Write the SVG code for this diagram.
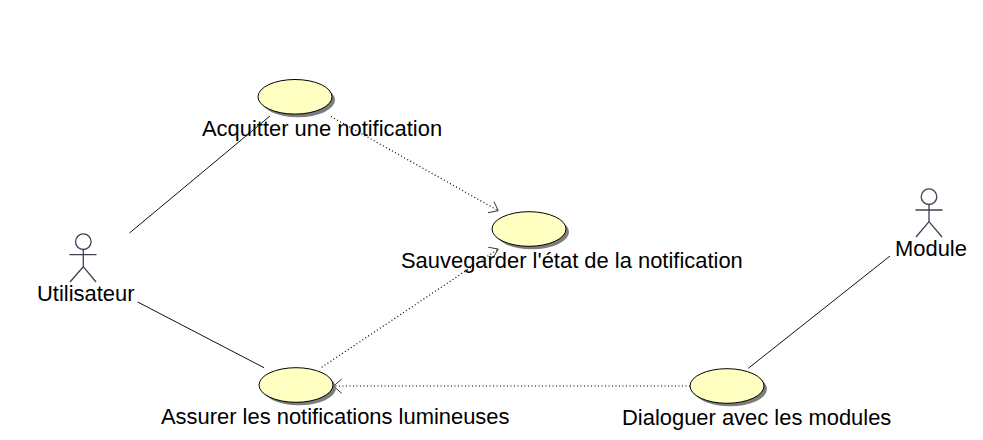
<svg xmlns="http://www.w3.org/2000/svg" width="983" height="440" viewBox="0 0 983 440">
<style>
text{font-family:"Liberation Sans",Arial,sans-serif;font-size:21.930px;fill:#000}
.uc{fill:#ffffc2;stroke:#000;stroke-width:1}
.sh{fill:#7d7d7d;stroke:none}
.actor{fill:none;stroke:#3f3f55;stroke-width:1.3}
.solid{fill:none;stroke:#111;stroke-width:1}
.dot{fill:none;stroke:#000;stroke-width:1.200;stroke-dasharray:1 2.500}
.head{fill:none;stroke:#333;stroke-width:1}
</style>
<rect width="983" height="440" fill="#fff"/>
<g id="connectors">
<path class="solid" d="M129.500 233L270 116"/>
<path class="solid" d="M137.700 302L264 367.700"/>
<path class="solid" d="M890 256L748.300 368.300"/>
<path class="dot" d="M331 116.500L498 210.500"/>
<path class="head" d="M488 212.700L498.300 210.700L494 201.700"/>
<path class="dot" d="M321.700 367.300L498 249.300"/>
<path class="head" d="M488.300 247.300L498.300 249L493 258"/>
<path class="dot" d="M690 386H334"/>
<path class="head" d="M341.700 379L333.500 386.200L341.700 393.300"/>
</g>
<g id="acquitter">
<ellipse class="sh" cx="298" cy="100" rx="37" ry="17.300"/>
<ellipse class="uc" cx="295" cy="96.800" rx="37" ry="17.300"/>
<text x="202" y="135.500">Acquitter une notification</text>
</g>
<g id="sauvegarder">
<ellipse class="sh" cx="532" cy="232" rx="37" ry="17.300"/>
<ellipse class="uc" cx="529" cy="229" rx="37" ry="17.300"/>
<text x="401" y="267.500">Sauvegarder l'état de la notification</text>
</g>
<g id="assurer">
<ellipse class="sh" cx="299" cy="388" rx="37" ry="17.300"/>
<ellipse class="uc" cx="296" cy="385" rx="37" ry="17.300"/>
<text x="161" y="423.500">Assurer les notifications lumineuses</text>
</g>
<g id="dialoguer">
<ellipse class="sh" cx="730" cy="389" rx="37" ry="17.300"/>
<ellipse class="uc" cx="727" cy="386" rx="37" ry="17.300"/>
<text x="622" y="424.500">Dialoguer avec les modules</text>
</g>
<g id="utilisateur">
<circle class="actor" cx="83.300" cy="241.700" r="7.800"/>
<path class="actor" d="M83.300 249.500V266.700M69.500 254.700H96.500M83.300 266.700L70 282M83.300 266.700L96 282"/>
<text x="37" y="300.500">Utilisateur</text>
</g>
<g id="module">
<circle class="actor" cx="929" cy="196.700" r="7.800"/>
<path class="actor" d="M929 204.500V221.700M915.500 210H942.500M929 221.700L916 237M929 221.700L942 237"/>
<text x="895" y="255.500">Module</text>
</g>
</svg>
